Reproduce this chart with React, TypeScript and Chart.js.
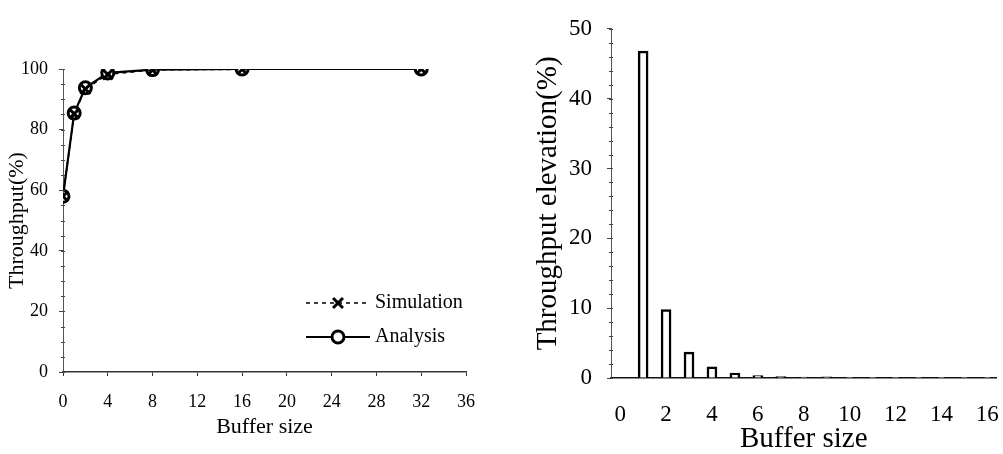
import React, { useEffect, useRef } from 'react';
import { Chart, registerables } from 'chart.js';

Chart.register(...registerables);

const FONT = '"Liberation Serif", "Times New Roman", Times, serif';

// ---- Left chart data ----
const bufferSizesLeft = [0, 1, 2, 4, 8, 16, 32];
const simulationThroughput = [58, 85.2, 93.4, 98.2, 99.7, 99.9, 100];
const analysisThroughput = [58, 85.5, 93.8, 98.7, 99.8, 100, 100];
const leftSeriesNames = ['Simulation', 'Analysis'];

// ---- Right chart data ----
const bufferSizesRight = [1, 2, 3, 4, 5, 6, 7, 8, 9, 10, 11, 12, 13, 14, 15, 16];
const throughputElevation = [46.8, 9.8, 3.7, 1.6, 0.7, 0.35, 0.22, 0.12, 0.15, 0.05, 0.05, 0.05, 0.05, 0.05, 0.05, 0.05];

function drawMarker(ctx: CanvasRenderingContext2D, style: string, x: number, y: number, r: number, bw: number) {
  ctx.save();
  ctx.setLineDash([]);
  ctx.lineWidth = bw;
  ctx.strokeStyle = '#000';
  ctx.fillStyle = '#fff';
  if (style === 'circle') {
    ctx.beginPath();
    ctx.arc(x, y, r, 0, Math.PI * 2);
    ctx.fill();
    ctx.stroke();
  } else {
    const d = r * Math.SQRT1_2;
    ctx.beginPath();
    ctx.moveTo(x - d, y - d);
    ctx.lineTo(x + d, y + d);
    ctx.moveTo(x + d, y - d);
    ctx.lineTo(x - d, y + d);
    ctx.stroke();
  }
  ctx.restore();
}

const insideLegend = {
  id: 'insideLegend',
  afterDatasetsDraw(chart: any, _args: any, opts: any) {
    if (!opts || !opts.enabled) return;
    const ctx: CanvasRenderingContext2D = chart.ctx;
    chart.data.datasets.forEach((ds: any, i: number) => {
      const y = opts.y + i * opts.rowGap;
      ctx.save();
      ctx.strokeStyle = ds.borderColor;
      ctx.lineWidth = ds.borderWidth;
      ctx.setLineDash(ds.borderDash || []);
      ctx.beginPath();
      ctx.moveTo(opts.x, y);
      ctx.lineTo(opts.x + opts.lineLen, y);
      ctx.stroke();
      ctx.restore();
      drawMarker(ctx, ds.pointStyle, opts.x + opts.lineLen / 2, y, ds.pointRadius, ds.pointBorderWidth);
      ctx.save();
      ctx.fillStyle = '#000';
      ctx.font = `${opts.fontSize}px ${FONT}`;
      ctx.textBaseline = 'middle';
      ctx.textAlign = 'left';
      ctx.fillText(ds.label, opts.x + opts.lineLen + opts.textGap, y);
      ctx.restore();
    });
  },
};

// small minor tick marks along the y axis
const minorTicks = {
  id: 'minorTicks',
  afterDraw(chart: any, _args: any, opts: any) {
    if (!opts || !opts.enabled) return;
    const ys = chart.scales.y;
    const ctx: CanvasRenderingContext2D = chart.ctx;
    ctx.save();
    ctx.strokeStyle = '#444';
    ctx.lineWidth = 1;
    for (let v = ys.min; v <= ys.max + 1e-9; v += opts.step) {
      const py = Math.round(ys.getPixelForValue(v)) + 0.5;
      ctx.beginPath();
      ctx.moveTo(ys.right - 2, py);
      ctx.lineTo(ys.right + 2, py);
      ctx.stroke();
    }
    ctx.restore();
  },
};

function LeftChart() {
  const ref = useRef<HTMLCanvasElement | null>(null);
  useEffect(() => {
    if (!ref.current) return;
    const chart = new Chart(ref.current, {
      type: 'line',
      data: {
        datasets: [
          {
            label: leftSeriesNames[0],
            data: bufferSizesLeft.map((x, i) => ({ x, y: simulationThroughput[i] })),
            borderColor: '#000',
            borderWidth: 1.5,
            borderDash: [4, 4],
            pointStyle: 'crossRot',
            pointRadius: 7,
            pointBorderWidth: 3,
            pointBorderColor: '#000',
            pointBackgroundColor: '#fff',
            fill: false,
            tension: 0,
          },
          {
            label: leftSeriesNames[1],
            data: bufferSizesLeft.map((x, i) => ({ x, y: analysisThroughput[i] })),
            borderColor: '#000',
            borderWidth: 2.2,
            pointStyle: 'circle',
            pointRadius: 6,
            pointBorderWidth: 3,
            pointBorderColor: '#000',
            pointBackgroundColor: '#fff',
            fill: false,
            tension: 0,
          },
        ] as any,
      },
      options: {
        animation: false,
        responsive: true,
        maintainAspectRatio: false,
        layout: { padding: { top: 69, right: 14, left: 0, bottom: 0 } },
        plugins: {
          legend: { display: false },
          tooltip: { enabled: false },
          insideLegend: { enabled: true, x: 306, y: 303, rowGap: 34, lineLen: 64, textGap: 5, fontSize: 20 },
          minorTicks: { enabled: true, step: 5 },
        } as any,
        scales: {
          x: {
            type: 'linear',
            min: 0,
            max: 36,
            afterFit: (s: any) => { s.height = 82; },
            ticks: { stepSize: 4, padding: 15, color: '#000', font: { family: FONT, size: 18 } },
            grid: { display: true, drawOnChartArea: false, drawTicks: true, tickLength: 4, color: '#333' },
            border: { display: true, color: '#333', width: 1.5 },
            title: { display: true, text: 'Buffer size', color: '#000', font: { family: FONT, size: 22 }, padding: { top: 0, bottom: 14 } },
          },
          y: {
            type: 'linear',
            min: 0,
            max: 100,
            afterFit: (s: any) => { s.width = 63; },
            ticks: { stepSize: 20, padding: 11, color: '#000', font: { family: FONT, size: 18 } },
            grid: { display: true, drawOnChartArea: false, drawTicks: true, tickLength: 4, color: '#444' },
            border: { display: true, color: '#555', width: 1, dash: [3, 3] },
            title: { display: true, text: 'Throughput(%)', color: '#000', font: { family: FONT, size: 22 }, padding: { top: 4, bottom: 0 } },
          },
        },
      } as any,
      plugins: [insideLegend as any, minorTicks as any],
    });
    return () => chart.destroy();
  }, []);
  return <canvas ref={ref} />;
}

function RightChart() {
  const ref = useRef<HTMLCanvasElement | null>(null);
  useEffect(() => {
    if (!ref.current) return;
    const chart = new Chart(ref.current, {
      type: 'bar',
      data: {
        datasets: [
          {
            label: 'Throughput elevation',
            data: bufferSizesRight.map((x, i) => ({ x, y: throughputElevation[i] })),
            backgroundColor: '#fff',
            borderColor: '#000',
            borderWidth: 2.5,
            barThickness: 10,
          },
        ] as any,
      },
      options: {
        animation: false,
        responsive: true,
        maintainAspectRatio: false,
        layout: { padding: { top: 15, right: 7, left: 0, bottom: 0 } },
        plugins: {
          legend: { display: false },
          tooltip: { enabled: false },
          minorTicks: { enabled: true, step: 2 },
        } as any,
        scales: {
          x: {
            type: 'linear',
            offset: false,
            min: -0.4,
            max: 16.4,
            afterFit: (s: any) => { s.height = 82; },
            ticks: { stepSize: 2, includeBounds: false, padding: 23, color: '#000', font: { family: FONT, size: 23 } },
            grid: { display: true, offset: false, drawOnChartArea: false, drawTicks: false },
            border: { display: true, color: '#111', width: 1.5 },
            title: { display: true, text: 'Buffer size', color: '#000', font: { family: FONT, size: 29 }, padding: { top: 0, bottom: 3 } },
          },
          y: {
            type: 'linear',
            min: 0,
            max: 50,
            afterFit: (s: any) => { s.width = 111; },
            ticks: { stepSize: 10, padding: 15, color: '#000', font: { family: FONT, size: 23 } },
            grid: { display: true, drawOnChartArea: false, drawTicks: true, tickLength: 4, color: '#444' },
            border: { display: true, color: '#555', width: 1, dash: [3, 4] },
            title: { display: true, text: 'Throughput elevation(%)', color: '#000', font: { family: FONT, size: 29 }, padding: { top: 31, bottom: 0 } },
          },
        },
      } as any,
      plugins: [minorTicks as any],
    });
    return () => chart.destroy();
  }, []);
  return <canvas ref={ref} />;
}

export default function App() {
  return (
    <div style={{ position: 'fixed', left: 0, top: 0, width: 1003, height: 454, overflow: 'hidden', background: '#fff' }}>
      <div style={{ position: 'absolute', left: 0, top: 0, width: 490, height: 454 }}>
        <LeftChart />
      </div>
      <div style={{ position: 'absolute', left: 500, top: 0, width: 522, height: 460 }}>
        <RightChart />
      </div>
    </div>
  );
}
